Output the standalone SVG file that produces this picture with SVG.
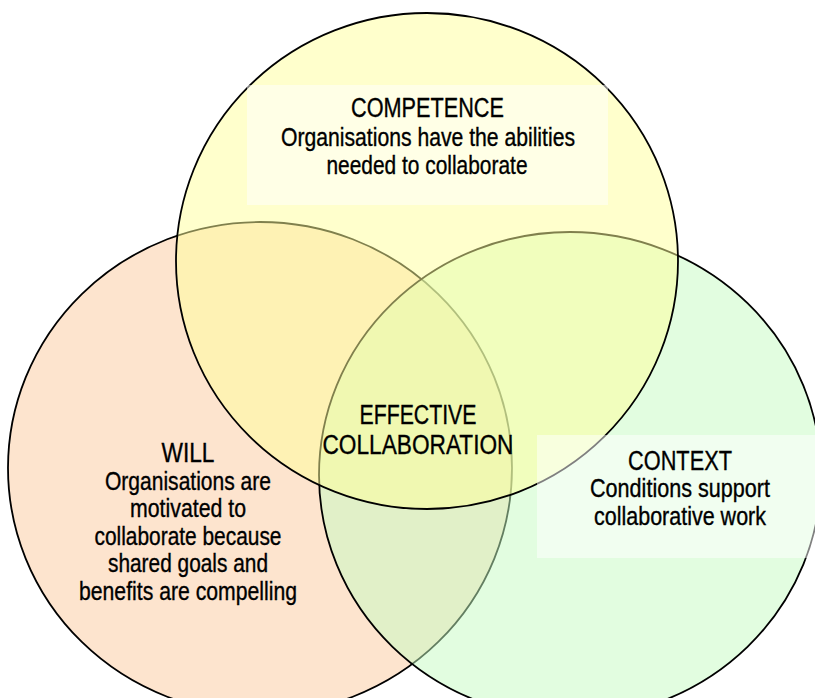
<svg xmlns="http://www.w3.org/2000/svg" width="815" height="698" viewBox="0 0 815 698">
<style>
.c{stroke:#000;stroke-width:1.8;fill-opacity:0.5}
.box{fill:#fff;fill-opacity:0.5}
text{font-family:"Liberation Sans Narrow","Arial Narrow","Liberation Sans",Arial,sans-serif;fill:#000;stroke:#000;stroke-width:0.35;text-anchor:middle}
.t{font-size:27px}
.b{font-size:25px}
</style>
<rect width="815" height="698" fill="#fff"/>
<g id="circles">
<ellipse id="will-circle" class="c" cx="260" cy="468" rx="252" ry="246" fill="#fbc99d"/>
<ellipse id="context-circle" class="c" cx="570" cy="475" rx="251" ry="243" fill="#c5fbc1"/>
<ellipse id="competence-circle" class="c" cx="427" cy="261" rx="251" ry="248" fill="#ffff99"/>
</g>
<g id="competence">
<rect class="box" x="247" y="85" width="361" height="120"/>
<text class="t" x="427.5" y="117" textLength="153" lengthAdjust="spacingAndGlyphs">COMPETENCE</text>
<text class="b" x="428" y="146" textLength="294" lengthAdjust="spacingAndGlyphs">Organisations have the abilities</text>
<text class="b" x="427" y="174" textLength="201" lengthAdjust="spacingAndGlyphs">needed to collaborate</text>
</g>
<g id="context">
<rect class="box" x="537" y="435" width="278" height="123"/>
<text class="t" x="680" y="470" textLength="104" lengthAdjust="spacingAndGlyphs">CONTEXT</text>
<text class="b" x="680" y="497" textLength="180" lengthAdjust="spacingAndGlyphs">Conditions support</text>
<text class="b" x="680" y="524.5" textLength="172" lengthAdjust="spacingAndGlyphs">collaborative work</text>
</g>
<g id="will">
<text class="t" x="188" y="462" textLength="53" lengthAdjust="spacingAndGlyphs">WILL</text>
<text class="b" x="188" y="489.5" textLength="166" lengthAdjust="spacingAndGlyphs">Organisations are</text>
<text class="b" x="188" y="517" textLength="116" lengthAdjust="spacingAndGlyphs">motivated to</text>
<text class="b" x="188" y="544.5" textLength="187" lengthAdjust="spacingAndGlyphs">collaborate because</text>
<text class="b" x="188" y="572" textLength="160" lengthAdjust="spacingAndGlyphs">shared goals and</text>
<text class="b" x="188" y="599.5" textLength="218" lengthAdjust="spacingAndGlyphs">benefits are compelling</text>
</g>
<g id="effective">
<text class="t" x="418" y="423.5" textLength="117" lengthAdjust="spacingAndGlyphs">EFFECTIVE</text>
<text class="t" x="418" y="453.5" textLength="191" lengthAdjust="spacingAndGlyphs">COLLABORATION</text>
</g>
<g id="connectors"/>
</svg>
